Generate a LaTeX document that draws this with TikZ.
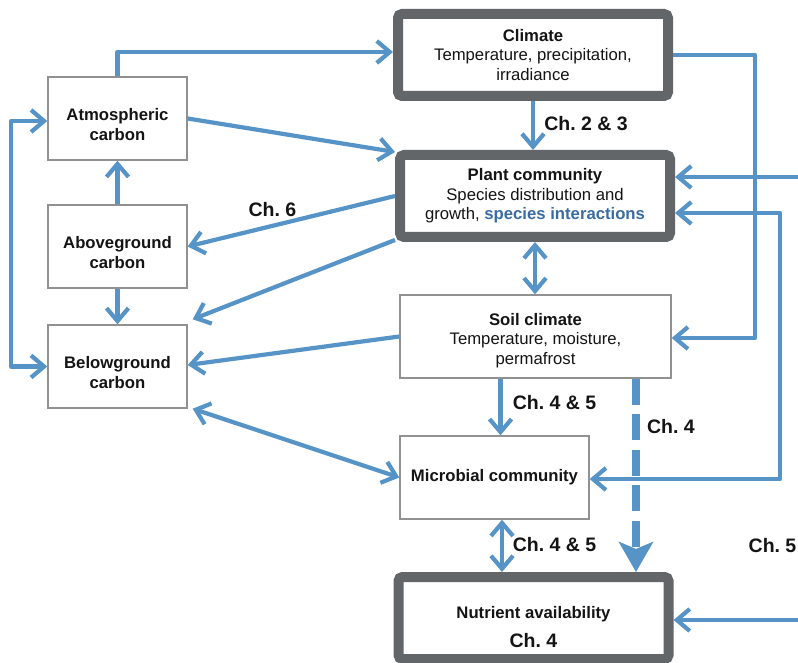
\documentclass[tikz,border=0pt]{standalone}
\usepackage{fontspec}
\setmainfont{Liberation Sans}
\usetikzlibrary{arrows.meta,calc}
\definecolor{arrblue}{RGB}{86,148,200}
\definecolor{boxgrey}{RGB}{98,102,104}
\definecolor{thingrey}{RGB}{145,145,145}
\definecolor{txtblue}{RGB}{58,108,164}
\definecolor{txtblack}{RGB}{20,20,20}
\newcommand\dfbody{\fontsize{16.7}{19.5}\selectfont}
\newcommand\dflab{\fontsize{19.5}{22}\selectfont\bfseries}
\newcommand\dfup[1]{\rule{0pt}{#1pt}}
\frenchspacing
\tikzset{
  tipA/.tip={Straight Barb[length=13pt,width=22pt]},
  tipB/.tip={Stealth[length=30pt,width=34pt,inset=7pt]},
}
\begin{document}
\begin{tikzpicture}[x=1pt,y=-1pt,
  thickbox/.style={draw=boxgrey, line width=10pt, rounded corners=4pt, fill=white,
    minimum width=270pt, minimum height=82pt, align=center, inner sep=0pt,
    font=\dfbody, text=txtblack},
  thinbox/.style={draw=thingrey, line width=1.4pt, fill=white, align=center,
    inner sep=0pt, font=\dfbody\bfseries, text=txtblack, minimum height=83pt},
  arr/.style={draw=arrblue, line width=4.2pt, line join=round, -tipA},
  darr/.style={draw=arrblue, line width=4.2pt, line join=round, tipA-tipA},
  dasharr/.style={draw=arrblue, line width=8.5pt, dash pattern=on 26pt off 9.5pt, -tipB},
  lab/.style={font=\dflab, text=txtblack, inner sep=0pt},
]
\useasboundingbox (0,0) rectangle (798,663);
\fill[white] (0,0) rectangle (798,663);

% boxes
\node[thickbox] (climate) at (533,55) {\textbf{Climate}\\Temperature, precipitation,\\irradiance};
\node[thickbox] (plant) at (535,196) {\textbf{Plant community}\\Species distribution and\\growth, \textcolor{txtblue}{\textbf{species interactions}}};
\node[thickbox] (nutr) at (533.5,618) {};
\node[font=\dfbody\bfseries, text=txtblack, align=center, inner sep=0pt] (nutrtxt) at (533.5,614.5) {Nutrient availability};
\node[lab] (nutrch) at (533.5,641) {Ch. 4};

\node[thinbox, minimum width=139pt] (atmo) at (117.5,118.5) {\dfup{24}Atmospheric\\carbon};
\node[thinbox, minimum width=139pt] (above) at (117.5,246.5) {\dfup{24}Aboveground\\carbon};
\node[thinbox, minimum width=139pt] (below) at (117.5,366.5) {\dfup{24}Belowground\\carbon};
\node[thinbox, minimum width=271pt, font=\dfbody] (soil) at (535.5,336.5) {\dfup{20}\textbf{Soil climate}\\Temperature, moisture,\\permafrost};
\node[thinbox, minimum width=189pt] (micro) at (494.5,477.5) {Microbial community};

% coordinates
\coordinate (r1) at (800,177);
\coordinate (r2) at (800,620);
\coordinate (dA) at ($(soil.south)+(100.5,0)$);
\coordinate (sm) at ($(soil.south)+(-35,0)$);
\coordinate (mn) at ($(micro.south)+(7.5,0)$);

% connectors
\draw[arr] (atmo.north) |- ([yshift=3pt]climate.west);
\draw[arr] (atmo.east) -- ([yshift=-2pt]plant.north west);
\draw[arr] (climate.south) -- (climate.south |- plant.north);
\draw[arr] (plant.west) -- (above.east);
\draw[arr] ([yshift=2pt]plant.south west) -- ($(below.north east)+(5,-5)$);
\draw[arr] (soil.west) -- ([yshift=1.5pt]below.east);
\draw[darr] (micro.west) -- ($(below.south east)+(5,0)$);
\draw[arr] (above.north) -- (atmo.south);
\draw[arr] (above.south) -- (below.north);
\draw[darr] ([yshift=-2.5pt]atmo.west) -| ($(below.west)+(-36,0)$) -- (below.west);
\draw[darr] (plant.south) -- (plant.south |- soil.north);
\draw[arr] (climate.east) -- ++(82,0) |- ([yshift=-1.5pt]soil.east);
\draw[arr] (r1) -- (r1 -| plant.east);
\draw[darr] ([yshift=-17pt]plant.east) -- ++(105,0) |- ([yshift=-1.5pt]micro.east);
\draw[arr] (sm) -- (sm |- micro.north);
\draw[dasharr] (dA) -- (dA |- nutr.north);
\draw[darr] (mn) -- (mn |- nutr.north);
\draw[arr] (r2) -- (r2 -| nutr.east);

% labels
\node[lab] (l23) at (586,124) {Ch. 2 \& 3};
\node[lab] (l6) at (272.5,210) {Ch. 6};
\node[lab] (l45a) at (554.5,403) {Ch. 4 \& 5};
\node[lab] (l4) at (671,427) {Ch. 4};
\node[lab] (l45b) at (554.5,545) {Ch. 4 \& 5};
\node[lab] (l5) at (772.5,546) {Ch. 5};
\end{tikzpicture}
\end{document}
